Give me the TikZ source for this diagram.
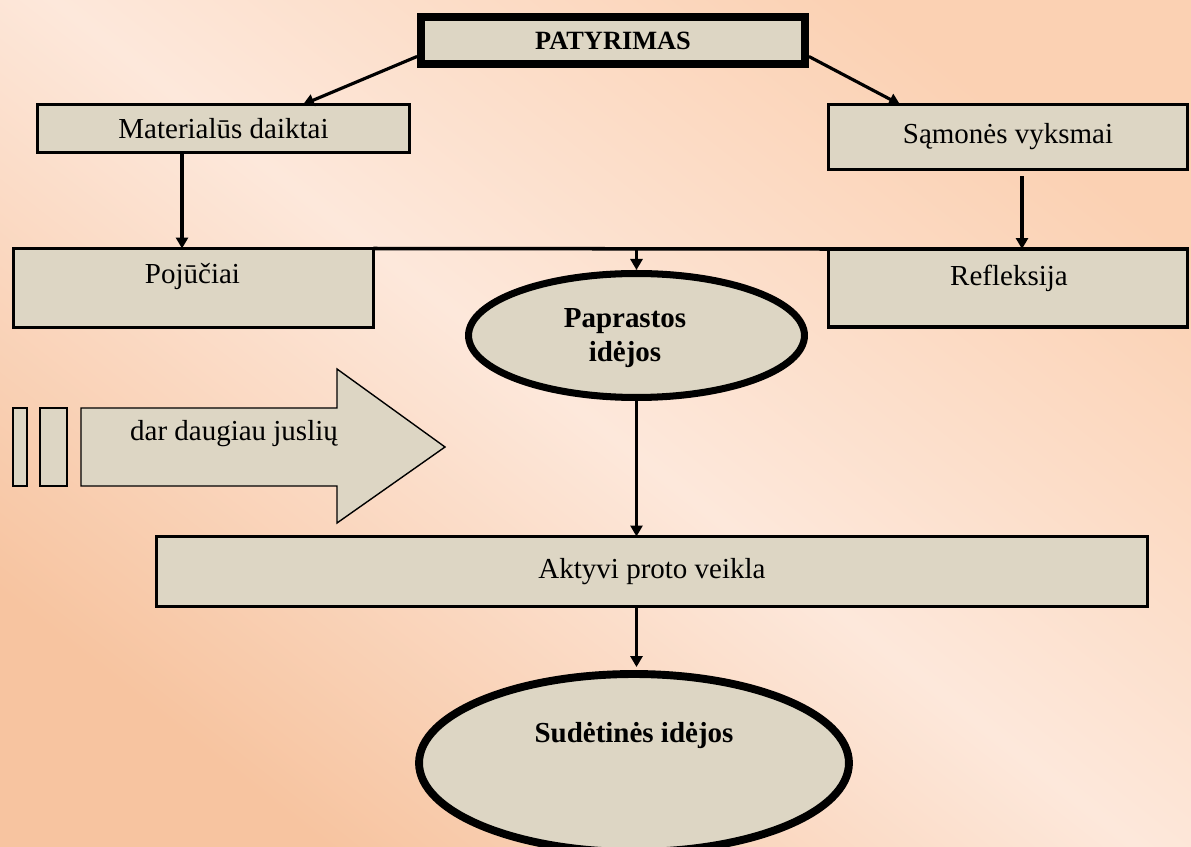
\documentclass[tikz,border=0pt]{standalone}
\usepackage{fontspec}
\setmainfont{Liberation Serif}
\usetikzlibrary{arrows.meta, shapes.geometric}
\definecolor{boxfill}{HTML}{DDD6C4}
\definecolor{bgpale}{HTML}{FDE8DB}
\definecolor{bgorange}{HTML}{F7C4A0}
\definecolor{bgpeach}{HTML}{FBD1B3}
\begin{document}
\begin{tikzpicture}[x = 0.02cm, y = -0.02cm,
  box/.style = {draw, line width = 2pt, fill = boxfill, inner sep = 0pt, outer sep = 0pt},
  oval/.style = {draw, ellipse, line width = 4pt, fill = boxfill, inner sep = 0pt},
  txt/.style = {font = \fontsize{16.5}{19.8}\selectfont},
  btxt/.style = {font = \fontsize{16.5}{19.8}\selectfont\bfseries, align = center},
  link/.style = {line width = 1.8pt, -{Triangle[length = 0.22cm, width = 0.24cm]}},
  thin box/.style = {draw, line width = 0.8pt, fill = boxfill}]
\useasboundingbox (0,0) rectangle (1191,847);
\clip (0,0) rectangle (1191,847);
\shade [top color = bgpeach, bottom color = bgorange, middle color = bgpale, shading angle = -38] (0,0) rectangle (1191,847);
\node [box, line width = 4.5pt, outer sep = 2.25pt, minimum width = 7.68cm, minimum height = 0.94cm, font = \fontsize{15}{18}\selectfont\bfseries] (pat) at (613,40.5) {PATYRIMAS};
\node [box, txt, minimum width = 7.44cm, minimum height = 0.96cm] (mat) at (223.5,128.5) {Materialūs daiktai};
\node [box, txt, minimum width = 7.18cm, minimum height = 1.3cm] (sam) at (1008,137) {Sąmonės vyksmai};
\node [box, minimum width = 7.2cm, minimum height = 1.58cm] (poj) at (193.5,288) {};
\node [txt] (poj text) at (192.5,277) {Pojūčiai};
\node [box, minimum width = 7.18cm, minimum height = 1.56cm] (ref) at (1008,288) {};
\node [txt] (ref text) at (1009,278) {Refleksija};
\node [oval, minimum width = 6.72cm, minimum height = 2.48cm] (pap) at (636.5,335.5) {};
\node [btxt] (pap text) at (625,338) {Paprastos\\idėjos};
\node [box, txt, minimum width = 19.82cm, minimum height = 1.4cm] (akt) at (652,571.5) {Aktyvi proto veikla};
\node [oval, line width = 4.5pt, minimum width = 8.6cm, minimum height = 3.56cm] (sud) at (634,763) {};
\node [btxt] (sud text) at (634,736) {Sudėtinės idėjos};
% arrow with the two bars
\draw [thin box] (81,408) -- (337,408) -- (337,369) -- (445,447) -- (337,523) -- (337,486) -- (81,486) -- cycle;
\draw [thin box] (13,408) rectangle (27,486);
\draw [thin box] (40,408) rectangle (67,486);
\node [txt] (jusl) at (234,434) {dar daugiau juslių};
% connectors
\draw [link] ([yshift = -0.32cm]pat.west) -- ([xshift = 1.59cm]mat.north);
\draw [link] ([yshift = -0.32cm]pat.east) -- ([xshift = -2.16cm]sam.north);
\coordinate (mat out) at ([xshift = -0.83cm]mat.south);
\draw [link] (mat out) -- (mat out |- poj.north);
\coordinate (sam out) at ([xshift = 0.28cm, yshift = -0.14cm]sam.south);
\draw [link] (sam out) -- (sam out |- ref.north);
\draw [line width = 2pt] (poj.north east) -- (ref.north west);
\coordinate (hub) at (poj.north east -| pap.north);
\draw [link] (hub) -- (pap.north);
\draw [link] (pap.south) -- (pap.south |- akt.north);
\draw [link, shorten > = 0.06cm] (pap.south |- akt.south) -- (pap.south |- sud.north);
\end{tikzpicture}
\end{document}
